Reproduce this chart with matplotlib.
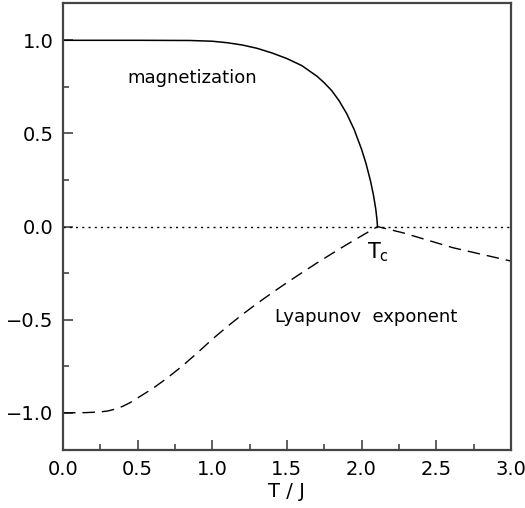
import numpy as np
import matplotlib
matplotlib.use("Agg")
import matplotlib.pyplot as plt
from matplotlib.ticker import MultipleLocator

# magnetization
mag_T = [0.0, 0.5, 0.85, 1.0, 1.1, 1.2, 1.3, 1.4, 1.5, 1.6, 1.7, 1.75, 1.8,
         1.85, 1.9, 1.95, 2.0, 2.03, 2.06, 2.08, 2.095, 2.103, 2.107]
mag_m = [1.0, 1.0, 0.999, 0.995, 0.987, 0.975, 0.957, 0.932, 0.902, 0.864, 0.808, 0.772, 0.730,
         0.675, 0.607, 0.522, 0.415, 0.338, 0.245, 0.168, 0.095, 0.04, 0.0]

# Lyapunov exponent
lyap_T = [0.0, 0.15, 0.25, 0.3, 0.35, 0.4, 0.45, 0.5, 0.6, 0.7, 0.8, 0.9, 1.0,
          1.1, 1.2, 1.3, 1.4, 1.5, 1.6, 1.7, 1.8, 1.9, 2.0, 2.107,
          2.28, 2.614, 3.0]
lyap_l = [-1.0, -0.999, -0.995, -0.99, -0.98, -0.965, -0.945, -0.92, -0.87, -0.812, -0.748, -0.678, -0.605,
          -0.537, -0.473, -0.413, -0.356, -0.301, -0.248, -0.196, -0.146, -0.097, -0.05, 0.0,
          -0.034, -0.114, -0.185]

x_ticks = [0.0, 0.5, 1.0, 1.5, 2.0, 2.5, 3.0]
y_ticks = [-1.0, -0.5, 0.0, 0.5, 1.0]

fig = plt.figure(figsize=(5.25, 5.08), dpi=100)
ax = fig.add_axes([0.12, 0.114, 0.853, 0.88])

ax.plot([0, 3.0], [0, 0], color='black', lw=1.0, linestyle=(0, (1.5, 3)))
ax.plot(mag_T, mag_m, color='black', lw=1.1)
ax.plot(lyap_T, lyap_l, color='black', lw=1.0, linestyle=(0, (9, 5)))

ax.text(0.43, 0.80, 'magnetization', fontsize=13, ha='left', va='center')
ax.text(1.42, -0.487, 'Lyapunov  exponent', fontsize=13, ha='left', va='center')
ax.text(2.11, -0.14, r'T$_\mathregular{c}$', fontsize=15, ha='center', va='center')

ax.set_xlim(0, 3.0)
ax.set_ylim(-1.2, 1.2)
ax.set_xticks(x_ticks)
ax.set_yticks(y_ticks)
ax.xaxis.set_minor_locator(MultipleLocator(0.25))
ax.yaxis.set_minor_locator(MultipleLocator(0.25))
ax.set_xticklabels(['%.1f' % v for v in x_ticks])
ax.set_yticklabels([('%.1f' % v).replace('-', '\u2212') for v in y_ticks])

ax.tick_params(which='both', direction='in', top=False, right=False,
               color='#444444', width=1.2, labelsize=14, pad=7)
ax.tick_params(which='major', length=7)
ax.tick_params(which='minor', length=4)
for sp in ax.spines.values():
    sp.set_color('#444444')
    sp.set_linewidth(1.6)

ax.set_xlabel('T / J', fontsize=14, labelpad=2)

fig.savefig('out.png', dpi=100)
